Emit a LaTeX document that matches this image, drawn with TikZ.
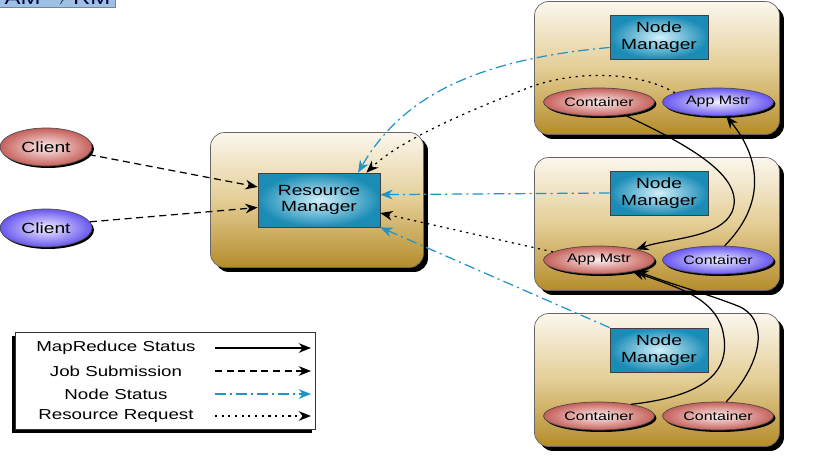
\documentclass[tikz,border=0pt]{standalone}
\usepackage{fontspec}
\setmainfont{Liberation Sans}[FakeStretch=1.3]
\usetikzlibrary{arrows.meta,positioning,calc,shapes.geometric,shadows}

\definecolor{tantop}{RGB}{251,247,238}
\definecolor{tanmid}{RGB}{228,206,150}
\definecolor{tanbot}{RGB}{180,140,42}
\definecolor{tealedge}{RGB}{26,140,182}
\definecolor{tealmid}{RGB}{210,240,250}
\definecolor{rededge}{RGB}{198,96,90}
\definecolor{redmid}{RGB}{252,238,238}
\definecolor{purpedge}{RGB}{104,86,240}
\definecolor{purpmid}{RGB}{242,240,255}
\definecolor{nsblue}{RGB}{30,148,200}
\definecolor{bannerblue}{RGB}{158,192,226}

\tikzset{
  host/.style={draw=black!60, rounded corners=0.28cm, top color=tantop,
    bottom color=tanbot, middle color=tanmid,
    drop shadow={shadow xshift=0.09cm, shadow yshift=-0.09cm, fill=black, opacity=1}},
  mgr/.style={draw=black!75, inner color=tealmid, outer color=tealedge,
    align=center, inner sep=0pt, font=\fontsize{8.4}{9.4}\selectfont},
  redpod/.style={ellipse, draw=black!70, inner color=redmid, outer color=rededge,
    inner sep=0pt, minimum width=2.22cm, minimum height=0.56cm,
    font=\fontsize{7}{8}\selectfont,
    drop shadow={shadow xshift=0.04cm, shadow yshift=-0.04cm, fill=black, opacity=1}},
  bluepod/.style={redpod, inner color=purpmid, outer color=purpedge},
  tip/.style={-{Stealth[length=7pt,width=5.5pt]}},
  mrstat/.style={tip, draw=black, line width=0.7pt},
  jobsub/.style={tip, draw=black, line width=0.7pt, dash pattern=on 4pt off 2.6pt},
  nodestat/.style={tip, draw=nsblue, line width=0.7pt,
    dash pattern=on 6pt off 2.4pt on 1.2pt off 2.4pt},
  resreq/.style={tip, draw=black, line width=0.7pt, dash pattern=on 1.2pt off 2.6pt}
}

\begin{document}
\begin{tikzpicture}[x=0.02cm, y=-0.02cm]
  \useasboundingbox (0,0) rectangle (814,463);
  \clip (0,0) rectangle (814,463);

  % title strip, cut at the top
  \node[fill=bannerblue, draw=bannerblue!70!black, text=black!75!blue,
    font=\fontsize{10.5}{12}\selectfont, inner xsep=3pt, inner ysep=2pt,
    anchor=south east] (title) at (116,8) {AM $\rightarrow$ RM};

  % clients
  \node[redpod, minimum width=1.84cm, minimum height=0.76cm,
    font=\fontsize{8.4}{9.4}\selectfont] (client1) at (46,147) {Client};
  \node[bluepod, minimum width=1.84cm, minimum height=0.76cm,
    font=\fontsize{8.4}{9.4}\selectfont] (client2) at (46,228) {Client};

  % resource manager
  \node[host, minimum width=4.26cm, minimum height=2.7cm] (rmhost) at (317,200) {};
  \node[mgr, minimum width=2.44cm, minimum height=1.08cm] (rm) at (319,200) {Resource\\Manager};

  % node hosts
  \foreach \i/\y in {1/68, 2/224, 3/380}
    \node[host, minimum width=4.9cm, minimum height=2.66cm] (host\i) at (657,\y) {};
  \node[mgr, minimum width=1.96cm, minimum height=0.88cm] (nm1) at (659,37) {Node\\Manager};
  \node[mgr, minimum width=1.96cm, minimum height=0.88cm] (nm2) at (659,193) {Node\\Manager};
  \node[mgr, minimum width=1.96cm, minimum height=0.88cm] (nm3) at (659,350) {Node\\Manager};

  % containers and app masters
  \node[redpod] (c1) at (599,102) {Container};
  \node[bluepod] (am1) at (718,102) {App Mstr};
  \node[redpod] (am2) at (599,260) {App Mstr};
  \node[bluepod] (k2) at (718,260) {Container};
  \node[redpod] (c3a) at (599,416) {Container};
  \node[redpod] (c3b) at (718,416) {Container};

  % job submission
  \draw[jobsub] (client1.-10) -- (rm.168);
  \draw[jobsub] (client2.8) -- (rm.187);

  % node status
  \draw[nodestat] (nm1.192) .. controls (470,60) and (400,100) .. (rm.35);
  \draw[nodestat] (nm2.west) -- (rm.5);
  \draw[nodestat] (nm3.north west) -- (rm.south east);

  % resource request
  \draw[resreq] (am1.168) .. controls (640,72) and (580,70) .. (533,86)
    .. controls (470,110) and (400,140) .. (rm.30);
  \draw[resreq] (am2.170) -- (rm.-12);

  % mapreduce status
  \draw[mrstat] (c1.-27) .. controls (700,150) and (745,180) .. (732,212)
    .. controls (720,238) and (670,238) .. (am2.16);
  \draw[mrstat] (k2.65) .. controls (765,205) and (762,160) .. (am1.-60);
  \draw[mrstat] (c3a.20) .. controls (715,395) and (732,365) .. (722,328)
    .. controls (712,298) and (680,288) .. (am2.-19);
  \draw[mrstat] (c3b.60) .. controls (765,360) and (768,318) .. (738,306)
    .. controls (705,293) and (670,284) .. (am2.-16);

  % legend
  \node[draw=black!80, fill=white, minimum width=6cm, minimum height=1.94cm,
    drop shadow={shadow xshift=-0.06cm, shadow yshift=-0.07cm, fill=black, opacity=1}]
    (legend) at (165,381) {};
  \foreach \n/\y/\txt/\sty in {lg1/348/MapReduce Status/mrstat, lg2/371/Job Submission/jobsub,
      lg3/394/Node Status/nodestat, lg4/416/Resource Request/resreq} {
    \node[font=\fontsize{8.2}{9}\selectfont] (\n) at (116,\y) {\txt};
    \coordinate (\n a) at (215,\y);
    \coordinate (\n b) at (311,\y);
    \draw[\sty] (\n a) -- (\n b);
  }
\end{tikzpicture}
\end{document}
